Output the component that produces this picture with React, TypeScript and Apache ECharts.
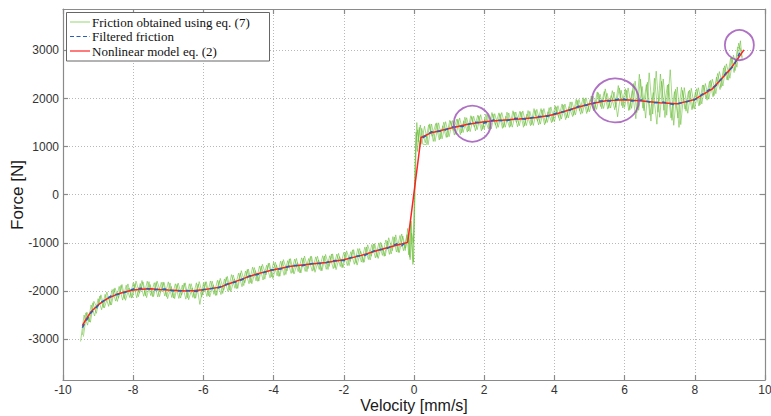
import React, { useEffect, useRef } from "react";
import * as echarts from "echarts";

// Velocity [mm/s], Force [N]
const frictionPassA: [number, number][] = [
  [-9.5, -3050], [-9.4, -2500], [-9.3, -2710], [-9.2, -2290], [-9.1, -2520], [-9.0, -2160], [-8.9, -2390], [-8.8, -2070], [-8.7, -2320], [-8.6, -1970],
  [-8.5, -2210], [-8.4, -1905], [-8.3, -2190], [-8.2, -1880], [-8.1, -2135], [-8.0, -1830], [-7.9, -2142], [-7.8, -1845], [-7.7, -2110], [-7.6, -1797],
  [-7.5, -2095], [-7.4, -1828], [-7.3, -2125], [-7.2, -1820], [-7.1, -2105], [-7.0, -1810], [-6.9, -2135], [-6.8, -1850], [-6.7, -2155], [-6.6, -1878],
  [-6.5, -2170], [-6.4, -1850], [-6.3, -2135], [-6.2, -1830], [-6.1, -2280], [-6.0, -1835], [-5.9, -2115], [-5.8, -1792], [-5.7, -2070], [-5.6, -1778],
  [-5.5, -2075], [-5.4, -1750], [-5.3, -2010], [-5.2, -1660], [-5.1, -1945], [-5.0, -1630], [-4.9, -1912], [-4.8, -1585], [-4.7, -1850], [-4.6, -1505],
  [-4.5, -1790], [-4.4, -1480], [-4.3, -1772], [-4.2, -1465], [-4.1, -1727], [-4.0, -1400], [-3.9, -1685], [-3.8, -1380], [-3.7, -1675], [-3.6, -1370],
  [-3.5, -1635], [-3.4, -1337], [-3.3, -1599], [-3.2, -1311], [-3.1, -1593], [-3.0, -1325], [-2.9, -1588], [-2.8, -1291], [-2.7, -1554], [-2.6, -1267],
  [-2.5, -1550], [-2.4, -1268], [-2.3, -1536], [-2.2, -1234], [-2.1, -1492], [-2.0, -1200], [-1.9, -1472], [-1.8, -1184], [-1.7, -1446], [-1.6, -1118],
  [-1.5, -1400], [-1.4, -1088], [-1.3, -1346], [-1.2, -1034], [-1.1, -1312], [-1.0, -1000], [-0.9, -1260], [-0.8, -940], [-0.7, -1240], [-0.6, -870],
  [-0.5, -1190], [-0.4, -847], [-0.3, -1163], [-0.2, -830], [-0.15, -1250], [-0.1, -600], [-0.06, -1100], [-0.03, -1450], [0.0, -300], [0.03, 600],
  [0.06, 1300], [0.1, 900], [0.15, 1400], [0.2, 1050], [0.3, 1423], [0.4, 1037], [0.5, 1470], [0.6, 1107], [0.7, 1494], [0.8, 1161],
  [0.9, 1518], [1.0, 1205], [1.1, 1542], [1.2, 1249], [1.3, 1596], [1.4, 1293], [1.5, 1600], [1.6, 1311], [1.7, 1632], [1.8, 1353],
  [1.9, 1664], [2.0, 1365], [2.1, 1662], [2.2, 1368], [2.3, 1685], [2.4, 1401], [2.5, 1708], [2.6, 1403], [2.7, 1699], [2.8, 1404],
  [2.9, 1720], [3.0, 1435], [3.1, 1741], [3.2, 1437], [3.3, 1733], [3.4, 1439], [3.5, 1775], [3.6, 1468], [3.7, 1790], [3.8, 1503],
  [3.9, 1825], [4.0, 1518], [4.1, 1850], [4.2, 1573], [4.3, 1885], [4.4, 1598], [4.5, 1930], [4.6, 1661], [4.7, 1982], [4.8, 1693],
  [4.9, 2014], [5.0, 1725], [5.1, 2050], [5.2, 1774], [5.3, 2089], [5.4, 1793], [5.5, 2108], [5.6, 1801], [5.7, 2135], [5.8, 1620],
  [5.9, 2172], [6.0, 1815], [6.1, 2220], [6.2, 1795], [6.3, 2360], [6.4, 1755], [6.5, 2250], [6.6, 1592], [6.7, 2534], [6.8, 1676],
  [6.9, 2568], [7.0, 1610], [7.1, 2406], [7.2, 1652], [7.3, 2598], [7.4, 1444], [7.5, 2240], [7.6, 1458], [7.7, 2226], [7.8, 1694],
  [7.9, 2212], [8.0, 1780], [8.1, 2224], [8.2, 1888], [8.3, 2312], [8.4, 1986], [8.5, 2400], [8.6, 2100], [8.7, 2560], [8.8, 2260],
  [8.9, 2720], [9.0, 2420], [9.1, 2900], [9.2, 2650], [9.3, 3200], [9.35, 2800],
];

const frictionPassB: [number, number][] = [
  [-9.45, -2915], [-9.35, -2455], [-9.25, -2645], [-9.15, -2245], [-9.05, -2465], [-8.95, -2105], [-8.85, -2345], [-8.75, -2020], [-8.65, -2290], [-8.55, -1955],
  [-8.45, -2218], [-8.35, -1883], [-8.25, -2160], [-8.15, -1853], [-8.05, -2148], [-7.95, -1846], [-7.85, -2118], [-7.75, -1782], [-7.65, -2098], [-7.55, -1806],
  [-7.45, -2116], [-7.35, -1822], [-7.25, -2118], [-7.15, -1813], [-7.05, -2118], [-6.95, -1833], [-6.85, -2148], [-6.75, -1863], [-6.65, -2147], [-6.55, -1839],
  [-6.45, -2140], [-6.35, -1848], [-6.25, -2153], [-6.15, -1857], [-6.05, -2129], [-5.95, -1810], [-5.85, -2098], [-5.75, -1796], [-5.65, -2094], [-5.55, -1782],
  [-5.45, -2053], [-5.35, -1715], [-5.25, -1985], [-5.15, -1668], [-5.05, -1953], [-4.95, -1626], [-4.85, -1888], [-4.75, -1553], [-4.65, -1828], [-4.55, -1513],
  [-4.45, -1800], [-4.35, -1481], [-4.25, -1754], [-4.15, -1426], [-4.05, -1709], [-3.95, -1403], [-3.85, -1698], [-3.75, -1383], [-3.65, -1658], [-3.55, -1333],
  [-3.45, -1621], [-3.35, -1323], [-3.25, -1625], [-3.15, -1317], [-3.05, -1599], [-2.95, -1282], [-2.85, -1575], [-2.75, -1278], [-2.65, -1581], [-2.55, -1274],
  [-2.45, -1554], [-2.35, -1232], [-2.25, -1520], [-2.15, -1218], [-2.05, -1516], [-1.95, -1201], [-1.85, -1473], [-1.75, -1145], [-1.65, -1427], [-1.55, -1119],
  [-1.45, -1409], [-1.35, -1087], [-1.25, -1355], [-1.15, -1023], [-1.05, -1301], [-0.95, -990], [-0.85, -1280], [-0.75, -960], [-0.65, -1230], [-0.55, -880],
  [-0.45, -1198], [-0.35, -815], [-0.25, -1161], [-0.18, -700], [-0.12, -1300], [-0.08, -550], [-0.04, -1200], [-0.01, -1400], [0.02, 100], [0.05, 1000],
  [0.08, 1500], [0.12, 1100], [0.18, 1450], [0.25, 1050], [0.35, 1040], [0.45, 1473], [0.55, 1108], [0.65, 1495], [0.75, 1162], [0.85, 1509],
  [0.95, 1196], [1.05, 1533], [1.15, 1240], [1.25, 1567], [1.35, 1284], [1.45, 1611], [1.55, 1325], [1.65, 1626], [1.75, 1327], [1.85, 1638],
  [1.95, 1359], [2.05, 1678], [2.15, 1385], [2.25, 1681], [2.35, 1378], [2.45, 1684], [2.55, 1400], [2.65, 1716], [2.75, 1421], [2.85, 1717],
  [2.95, 1412], [3.05, 1718], [3.15, 1434], [3.25, 1750], [3.35, 1456], [3.45, 1752], [3.55, 1451], [3.65, 1764], [3.75, 1486], [3.85, 1809],
  [3.95, 1521], [4.05, 1829], [4.15, 1541], [4.25, 1864], [4.35, 1596], [4.45, 1929], [4.55, 1650], [4.65, 1961], [4.75, 1672], [4.85, 1993],
  [4.95, 1724], [5.05, 2052], [5.15, 1767], [5.25, 2121], [5.35, 1786], [5.45, 2200], [5.55, 1799], [5.65, 2163], [5.75, 1816], [5.85, 2220],
  [5.95, 1803], [6.05, 2172], [6.15, 1767], [6.25, 2312], [6.35, 1707], [6.45, 2402], [6.55, 1746], [6.65, 2338], [6.75, 1530], [6.85, 2422],
  [6.95, 1714], [7.05, 2358], [7.15, 1604], [7.25, 2300], [7.35, 1546], [7.45, 2192], [7.55, 1399], [7.65, 2167], [7.75, 1735], [7.85, 2173],
  [7.95, 1791], [8.05, 2202], [8.15, 1866], [8.25, 2280], [8.35, 1964], [8.45, 2378], [8.55, 2060], [8.65, 2520], [8.75, 2230], [8.85, 2680],
  [8.95, 2380], [9.05, 2850], [9.15, 2580], [9.25, 3150], [9.35, 2855],
];

const frictionPassC: [number, number][] = [
  [-9.42, -2950], [-9.32, -2440], [-9.22, -2650], [-9.12, -2215], [-9.02, -2365], [-8.92, -2080], [-8.82, -2350], [-8.72, -2118], [-8.62, -2288], [-8.52, -1936],
  [-8.42, -2150], [-8.32, -1865], [-8.22, -2194], [-8.12, -1938], [-8.02, -2133], [-7.92, -1794], [-7.82, -2046], [-7.72, -1811], [-7.62, -2138], [-7.52, -1865],
  [-7.42, -2117], [-7.32, -1794], [-7.22, -2029], [-7.12, -1824], [-7.02, -2159], [-6.92, -1904], [-6.82, -2159], [-6.72, -1834], [-6.62, -2087], [-6.52, -1830],
  [-6.42, -2180], [-6.32, -1936], [-6.22, -2151], [-6.12, -1805], [-6.02, -2077], [-5.92, -1807], [-5.82, -2125], [-5.72, -1872], [-5.62, -2090], [-5.52, -1738],
  [-5.42, -1985], [-5.32, -1696], [-5.22, -2016], [-5.12, -1750], [-5.02, -1945], [-4.92, -1578], [-4.82, -1830], [-4.72, -1545], [-4.62, -1850], [-4.52, -1575],
  [-4.42, -1794], [-4.32, -1446], [-4.22, -1668], [-4.12, -1421], [-4.02, -1743], [-3.92, -1458], [-3.82, -1693], [-3.72, -1348], [-3.62, -1583], [-3.52, -1328],
  [-3.42, -1649], [-3.32, -1411], [-3.22, -1623], [-3.12, -1275], [-3.02, -1537], [-2.92, -1279], [-2.82, -1612], [-2.72, -1355], [-2.62, -1578], [-2.52, -1241],
  [-2.42, -1490], [-2.32, -1228], [-2.22, -1556], [-2.12, -1284], [-2.02, -1512], [-1.92, -1166], [-1.82, -1388], [-1.72, -1140], [-1.62, -1462], [-1.52, -1174],
  [-1.42, -1402], [-1.32, -1040], [-1.22, -1278], [-1.12, -1016], [-1.02, -1324], [-0.92, -1034], [-0.82, -1274], [-0.72, -894], [-0.62, -1164], [-0.52, -834],
  [-0.42, -1202], [-0.32, -858], [-0.24, -1110], [-0.16, -820], [-0.11, -1350], [-0.07, -800], [-0.02, -1000], [0.01, -600], [0.04, 400], [0.07, 1200],
  [0.11, 1350], [0.16, 1000], [0.22, 1380], [0.32, 1080], [0.42, 1453], [0.52, 1213], [0.62, 1480], [0.72, 1137], [0.82, 1434], [0.92, 1191],
  [1.02, 1548], [1.12, 1335], [1.22, 1572], [1.32, 1249], [1.42, 1536], [1.52, 1302], [1.62, 1643], [1.72, 1404], [1.82, 1655], [1.92, 1326],
  [2.02, 1586], [2.12, 1363], [2.22, 1709], [2.32, 1446], [2.42, 1702], [2.52, 1379], [2.62, 1634], [2.72, 1400], [2.82, 1745], [2.92, 1501],
  [3.02, 1736], [3.12, 1402], [3.22, 1678], [3.32, 1434], [3.42, 1790], [3.52, 1528], [3.62, 1790], [3.72, 1453], [3.82, 1725], [3.92, 1498],
  [4.02, 1852], [4.12, 1605], [4.22, 1887], [4.32, 1560], [4.42, 1832], [4.52, 1624], [4.62, 1985], [4.72, 1746], [4.82, 2017], [4.92, 1688],
  [5.02, 1978], [5.12, 1743], [5.22, 2137], [5.32, 1832], [5.42, 2146], [5.52, 1779], [5.62, 2062], [5.72, 1765], [5.82, 2269], [5.92, 1852],
  [6.02, 2204], [6.12, 1749], [6.22, 2164], [6.32, 1579], [6.42, 2504], [6.52, 1798], [6.62, 2290], [6.72, 1652], [6.82, 2124], [6.92, 1466],
  [7.02, 2509], [7.12, 1755], [7.22, 2281], [7.32, 1597], [7.42, 2143], [7.52, 1594], [7.62, 2232], [7.72, 1780], [7.82, 2148], [7.92, 1766],
  [8.02, 2139], [8.12, 1843], [8.22, 2277], [8.32, 2001], [8.42, 2355], [8.52, 2036], [8.62, 2446], [8.72, 2186], [8.82, 2636], [8.92, 2386],
  [9.02, 2840], [9.12, 2540], [9.22, 3070], [9.32, 3020],
];

const filteredFriction: ([number, number] | null)[] = [
  [-9.45, -2760], [-9.2, -2450], [-8.9, -2230], [-8.6, -2090], [-8.3, -2050], [-8.0, -1960], [-7.7, -1940], [-7.4, -1975], [-7.1, -1960], [-6.8, -2005],
  [-6.5, -1990], [-6.2, -2010], [-5.9, -1955], [-5.6, -1940], [-5.3, -1850], [-5.0, -1800], [-4.7, -1690], [-4.4, -1650], [-4.1, -1565], [-3.8, -1545],
  [-3.5, -1470], [-3.2, -1475], [-2.9, -1430], [-2.6, -1430], [-2.3, -1370], [-2.0, -1365], [-1.7, -1280], [-1.4, -1260], [-1.1, -1150], [-0.8, -1130],
  [-0.5, -1020], [-0.35, -1060], [-0.2, -960],
  null,
  [0.25, 1180], [0.5, 1310], [0.8, 1320], [1.1, 1410], [1.4, 1420], [1.7, 1510], [2.0, 1490], [2.3, 1560], [2.6, 1530], [2.9, 1590],
  [3.2, 1570], [3.5, 1625], [3.8, 1630], [4.1, 1705], [4.4, 1745], [4.7, 1840], [5.0, 1870], [5.3, 1950], [5.6, 1950], [5.9, 2000],
  [6.2, 1950], [6.5, 1970], [6.8, 1910], [7.1, 1925], [7.4, 1875], [7.7, 1920], [8.0, 1975], [8.3, 2130], [8.6, 2270], [8.9, 2540],
  [9.1, 2670], [9.3, 2980],
];

const nonlinearModel: [number, number][] = [
  [-9.45, -2720], [-9.3, -2540], [-9.2, -2430], [-9.0, -2290], [-8.75, -2165], [-8.5, -2080], [-8.25, -2020], [-8.0, -1980], [-7.75, -1962], [-7.5, -1955],
  [-7.25, -1968], [-7.0, -1980], [-6.5, -2000], [-6.25, -1992], [-6.0, -1975], [-5.75, -1946], [-5.5, -1915], [-5.25, -1845], [-5.0, -1780], [-4.75, -1713],
  [-4.5, -1650], [-4.0, -1560], [-3.5, -1485], [-3.0, -1445], [-2.5, -1410], [-2.0, -1350], [-1.5, -1260], [-1.0, -1150], [-0.5, -1050], [-0.18, -990],
  [0.2, 1190], [0.5, 1290], [1.0, 1375], [1.5, 1460], [2.0, 1515], [2.5, 1548], [3.0, 1575], [3.5, 1605], [4.0, 1668], [4.25, 1724],
  [4.5, 1780], [4.75, 1832], [5.0, 1885], [5.25, 1921], [5.5, 1958], [5.75, 1966], [6.0, 1975], [6.25, 1962], [6.5, 1950], [7.0, 1910],
  [7.25, 1900], [7.5, 1890], [7.75, 1935], [8.0, 1980], [8.25, 2090], [8.5, 2200], [8.75, 2400], [9.0, 2600], [9.2, 2800], [9.4, 3010],
];

// highlighted regions: [velocity, force]
const highlightCentres: [number, number][] = [[1.66, 1476], [5.74, 1960], [9.27, 3110]];
const highlightSizes: [number, number][] = [[37, 36], [47, 44], [29, 30]];

const forceTicks = [-3000, -2000, -1000, 0, 1000, 2000, 3000];

const SERIES_NAMES = ["Friction obtained using eq. (7)", "Filtered friction", "Nonlinear model eq. (2)"];
const X_TITLE = "Velocity [mm/s]";
const Y_TITLE = "Force [N]";

const GREEN = "rgba(98,185,45,0.55)";
const GREEN_KEY = "#a8dc8c";
const BLUE = "#2a5db8";
const RED = "#ff2222";
const PURPLE = "#9b4db5";

export default function App() {
  const ref = useRef<HTMLDivElement>(null);
  useEffect(() => {
    if (!ref.current) return;
    const chart = echarts.init(ref.current, undefined, { renderer: "svg" });
    const frame = "#8a8a8a";
    const gridLine = { show: true, lineStyle: { color: "#b8b8b8", type: [1, 2] as any, width: 1 } };
    const tickStyle = { show: true, inside: true, length: 5, lineStyle: { color: frame, width: 1.2 } };
    const fmt = (v: number) => String(v);

    const legendRows = [
      { y: 22, color: GREEN_KEY, dash: null as number[] | null, width: 1.2 },
      { y: 36.5, color: BLUE, dash: [4, 2.5], width: 1.2 },
      { y: 51, color: RED, dash: null, width: 1.2 },
    ];
    const graphics: any[] = [
      {
        type: "rect",
        shape: { x: 66.5, y: 12.5, width: 203, height: 48.5 },
        style: { fill: "#ffffff", stroke: "#666", lineWidth: 1 },
        z: 100,
      },
      {
        type: "text",
        x: 414,
        y: 405.5,
        style: {
          text: X_TITLE,
          font: "16px 'Liberation Sans'",
          fill: "#1a1a1a",
          align: "center",
          verticalAlign: "middle",
        },
        z: 100,
      },
      {
        type: "text",
        x: 17,
        y: 195,
        rotation: Math.PI / 2,
        style: {
          text: Y_TITLE,
          font: "17px 'Liberation Sans'",
          fill: "#1a1a1a",
          align: "center",
          verticalAlign: "middle",
        },
        z: 100,
      },
    ];
    legendRows.forEach((r, i) => {
      graphics.push({
        type: "line",
        shape: { x1: 70, y1: r.y, x2: 90, y2: r.y },
        style: { stroke: r.color, lineWidth: r.width, lineDash: r.dash || undefined },
        z: 101,
      });
      graphics.push({
        type: "text",
        x: 92,
        y: r.y,
        style: {
          text: SERIES_NAMES[i],
          font: "13px 'Liberation Serif'",
          fill: "#111",
          verticalAlign: "middle",
        },
        z: 101,
      });
    });

    const option: any = {
      animation: false,
      backgroundColor: "#ffffff",
      grid: { left: 63, right: 6, top: 9, bottom: 36, outerBoundsMode: "none", show: false },
      graphic: graphics,
      xAxis: [
        {
          type: "value",
          min: -10,
          max: 10,
          interval: 2,
          axisLine: { show: true, onZero: false, lineStyle: { color: frame, width: 1.2 } },
          axisTick: tickStyle,
          axisLabel: { fontFamily: "Liberation Sans", fontSize: 12, color: "#333", margin: 4, formatter: fmt },
          splitLine: gridLine,
        },
        {
          type: "value",
          position: "top",
          min: -10,
          max: 10,
          interval: 2,
          axisLine: { show: true, onZero: false, lineStyle: { color: frame, width: 1.2 } },
          axisTick: tickStyle,
          axisLabel: { show: false },
          splitLine: { show: false },
        },
      ],
      yAxis: [
        {
          type: "value",
          min: -3850,
          max: 3860,
          axisLine: { show: true, onZero: false, lineStyle: { color: frame, width: 1.2 } },
          axisTick: { ...tickStyle, customValues: forceTicks },
          axisLabel: { fontFamily: "Liberation Sans", fontSize: 12, color: "#333", margin: 4, customValues: forceTicks, formatter: fmt },
          splitLine: gridLine,
        },
        {
          type: "value",
          position: "right",
          min: -3850,
          max: 3860,
          axisLine: { show: true, onZero: false, lineStyle: { color: frame, width: 1.2 } },
          axisTick: { ...tickStyle, customValues: forceTicks },
          axisLabel: { show: false, customValues: forceTicks },
          splitLine: { show: false },
        },
      ],
      series: [
        { name: SERIES_NAMES[0], type: "line", data: frictionPassA, symbol: "none", lineStyle: { color: GREEN, width: 1 }, z: 2 },
        { name: SERIES_NAMES[0], type: "line", data: frictionPassB, symbol: "none", lineStyle: { color: GREEN, width: 1 }, z: 2 },
        { name: SERIES_NAMES[0], type: "line", data: frictionPassC, symbol: "none", lineStyle: { color: GREEN, width: 1 }, z: 2 },
        { name: SERIES_NAMES[2], type: "line", data: nonlinearModel, symbol: "none", lineStyle: { color: RED, width: 1.5 }, z: 3 },
        {
          name: SERIES_NAMES[1],
          type: "line",
          data: filteredFriction,
          symbol: "none",
          connectNulls: false,
          lineStyle: { color: BLUE, width: 1.5, type: [4, 4] },
          z: 4,
        },
        {
          name: "highlight",
          type: "scatter",
          data: highlightCentres.map((c, i) => ({ value: c, symbolSize: highlightSizes[i] })),
          symbol: "circle",
          itemStyle: { color: "transparent", borderColor: PURPLE, borderWidth: 1.8 },
          silent: true,
          z: 5,
        },
      ],
    };
    chart.setOption(option);
    return () => chart.dispose();
  }, []);
  return (
    <div
      ref={ref}
      style={{ position: "fixed", left: 0, top: 0, width: 771, height: 416, background: "#fff" }}
    />
  );
}
